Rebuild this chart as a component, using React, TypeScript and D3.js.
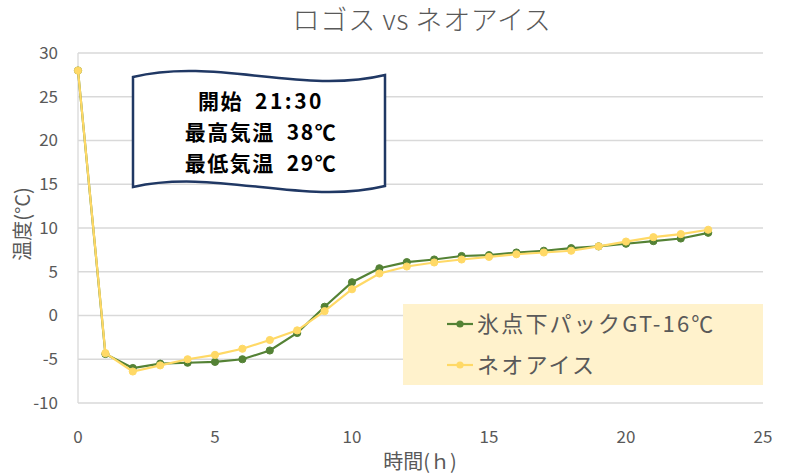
import React from "react";
import * as d3 from "d3";

const hours = [0,1,2,3,4,5,6,7,8,9,10,11,12,13,14,15,16,17,18,19,20,21,22,23];
const greenValues = [28,-4.4,-6.0,-5.5,-5.4,-5.3,-5.0,-4.0,-2.0,1.0,3.8,5.4,6.1,6.4,6.8,6.9,7.2,7.4,7.7,7.9,8.2,8.5,8.8,9.45];
const yellowValues = [28,-4.3,-6.4,-5.7,-5.0,-4.5,-3.8,-2.8,-1.7,0.5,3.0,4.8,5.6,6.06,6.4,6.7,7.0,7.2,7.4,7.9,8.45,8.95,9.3,9.8];
const seriesNames = ["氷点下パックGT-16℃", "ネオアイス"];
const xTicks = [0,5,10,15,20,25];
const yTicks = [-10,-5,0,5,10,15,20,25,30];
const bannerLabels = ["開始", "最高気温", "最低気温"];
const bannerValues = ["21:30", "38℃", "29℃"];
const title = "ロゴス vs ネオアイス";
const xTitle = "時間(ｈ)";
const yTitle = "温度(°C)";

const GREEN = "#548235";
const YELLOW = "#FFD966";
const TEXT = "#595959";
const FONT = "'Noto Sans CJK JP', 'Noto Sans', sans-serif";

export default function App() {
  const W = 800, H = 474;
  const x = d3.scaleLinear().domain([0, 25]).range([78, 763]);
  const y = d3.scaleLinear().domain([-10, 30]).range([403, 53]);
  const line = d3.line<number>().x((_, i) => x(hours[i])).y((d) => y(d));
  const series = [
    { name: seriesNames[0], values: greenValues, color: GREEN },
    { name: seriesNames[1], values: yellowValues, color: YELLOW },
  ];
  const bannerPath =
    "M133,77 C216,57 302,95 385,75 L385,186 C302,206 216,168 133,187 Z";
  return (
    <svg width={W} height={H} style={{ position: "absolute", left: 0, top: 0, background: "#fff" }} fontFamily={FONT}>
      <rect x={0} y={0} width={W} height={H} fill="#fff" />
      <text x={422} y={30} textAnchor="middle" fontSize={27} fill={TEXT} fontWeight={300} letterSpacing={0.6}>{title}</text>
      {yTicks.map((t) => (
        <g key={t}>
          <line x1={78} x2={763} y1={y(t)} y2={y(t)} stroke="#D9D9D9" strokeWidth={1.3} />
          <text x={58} y={y(t)} dy="0.35em" textAnchor="end" fontSize={17} fill={TEXT}>{t}</text>
        </g>
      ))}
      <line x1={78} x2={78} y1={53} y2={403} stroke="#D9D9D9" strokeWidth={1.3} />
      {xTicks.map((t) => (
        <text key={t} x={x(t)} y={437} dy="0.35em" textAnchor="middle" fontSize={17} fill={TEXT}>{t}</text>
      ))}
      <text x={420} y={462} dy="0.35em" textAnchor="middle" fontSize={20} fill={TEXT}>{xTitle}</text>
      <text transform="translate(23,224) rotate(-90)" dy="0.35em" textAnchor="middle" fontSize={20} fill={TEXT}>{yTitle}</text>

      <rect x={403} y={304} width={360} height={81} fill="#FFF2CC" />

      {series.map((s) => (
        <g key={s.name}>
          <path d={line(s.values) || ""} fill="none" stroke={s.color} strokeWidth={2.2} />
          {s.values.map((v, i) => (
            <circle key={i} cx={x(hours[i])} cy={y(v)} r={3.6} fill={s.color} stroke={s.color} strokeWidth={1} />
          ))}
        </g>
      ))}

      {series.map((s, i) => {
        const ly = 324 + i * 41;
        return (
          <g key={"lg" + i}>
            <line x1={447} x2={473} y1={ly} y2={ly} stroke={s.color} strokeWidth={2.2} />
            <circle cx={460} cy={ly} r={3.6} fill={s.color} />
            <text x={477} y={ly} dy="0.35em" fontSize={22} letterSpacing={2.2} fill={TEXT}>{s.name}</text>
          </g>
        );
      })}

      <path d={bannerPath} fill="#fff" stroke="#203864" strokeWidth={2.5} />
      {bannerLabels.map((l, i) => (
        <text key={i} x={261} y={102 + i * 30.7} dy="0.35em" textAnchor="middle" fontSize={21} fontWeight={700} fill="#000" letterSpacing={1.5}>
          <tspan>{l}</tspan>
          <tspan dx={12} letterSpacing={i === 0 ? 2.5 : 1.5}>{bannerValues[i]}</tspan>
        </text>
      ))}
    </svg>
  );
}
